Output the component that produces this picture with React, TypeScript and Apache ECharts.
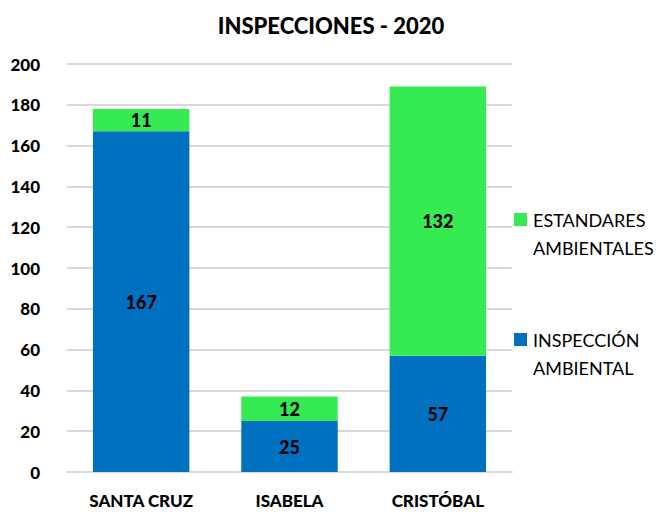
import React, { useEffect, useRef } from "react";
import * as echarts from "echarts";

const categories = ["SANTA CRUZ", "ISABELA", "CRISTÓBAL"];
const inspeccionAmbiental = [167, 25, 57];
const estandaresAmbientales = [11, 12, 132];
const yTicks = { min: 0, max: 200, interval: 20 };
const legendLines = [
  ["ESTANDARES", "AMBIENTALES"],
  ["INSPECCIÓN", "AMBIENTAL"],
];
const COLORS = { inspeccion: "#0070C0", estandares: "#36EB52" };

const FONT = "Lato, 'Open Sans', sans-serif";

export default function App() {
  const ref = useRef<HTMLDivElement>(null);
  useEffect(() => {
    document.body.style.margin = "0";
    const chart = echarts.init(ref.current!, undefined, { renderer: "svg" });
    const labelStyle = {
      show: true,
      position: "inside" as const,
      color: "#000",
      fontWeight: 900 as const,
      fontSize: 18,
      fontFamily: FONT,
    };
    const legendColors = [COLORS.estandares, COLORS.inspeccion];
    const legendTops = [220, 340];
    const graphic: any[] = [];
    legendLines.forEach((lines, i) => {
      graphic.push({
        type: "rect",
        left: 514,
        top: legendTops[i] - 7,
        shape: { width: 13, height: 13 },
        style: { fill: legendColors[i] },
      });
      lines.forEach((line, j) => {
        graphic.push({
          type: "text",
          x: 533,
          y: legendTops[i] + j * 28,
          style: {
            text: line,
            fontSize: 18,
            fontFamily: FONT,
            fill: "#000",
            verticalAlign: "middle",
            align: "left",
          },
        });
      });
    });
    chart.setOption({
      animation: false,
      backgroundColor: "#fff",
      title: {
        text: "INSPECCIONES - 2020",
        left: 326,
        textAlign: "center",
        top: 9,
        textStyle: { fontSize: 22, fontWeight: 900, color: "#000", fontFamily: FONT },
      },
      grid: { left: 67, right: 148, top: 64, bottom: 40 },
      graphic,
      xAxis: {
        type: "category",
        data: categories,
        axisLine: { show: true, lineStyle: { color: "#d9d9d9", width: 2 } },
        axisTick: { show: false },
        axisLabel: { fontSize: 17, fontWeight: 900, color: "#000", fontFamily: FONT, margin: 20 },
      },
      yAxis: {
        type: "value",
        min: yTicks.min,
        max: yTicks.max,
        interval: yTicks.interval,
        axisLine: { show: false },
        axisTick: { show: false },
        splitLine: { lineStyle: { color: "#d9d9d9", width: 2 } },
        axisLabel: { fontSize: 17, fontWeight: 900, color: "#000", fontFamily: FONT, margin: 27 },
      },
      series: [
        {
          name: "INSPECCIÓN AMBIENTAL",
          type: "bar",
          stack: "total",
          data: inspeccionAmbiental,
          barCategoryGap: "35%",
          itemStyle: { color: COLORS.inspeccion },
          label: labelStyle,
        },
        {
          name: "ESTANDARES AMBIENTALES",
          type: "bar",
          stack: "total",
          data: estandaresAmbientales,
          barCategoryGap: "35%",
          itemStyle: { color: COLORS.estandares },
          label: labelStyle,
        },
      ],
    });
    return () => chart.dispose();
  }, []);
  return <div ref={ref} style={{ width: 660, height: 512 }} />;
}
